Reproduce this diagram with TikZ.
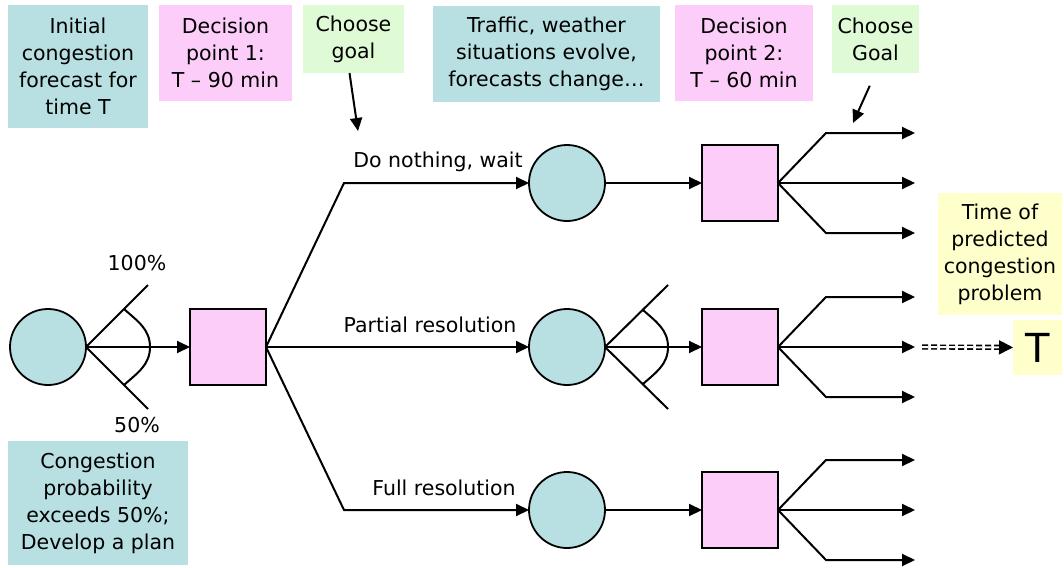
\documentclass[tikz,border=0pt]{standalone}
\usepackage{fontspec}
\setmainfont{DejaVu Sans}
\usetikzlibrary{positioning,arrows.meta,calc}
\definecolor{colorchance}   {RGB}{184,223,226}
\definecolor{colordecision} {RGB}{252,205,248}
\definecolor{colorgoal}     {RGB}{222,251,213}
\definecolor{colortime}     {RGB}{255,255,204}

\begin{document}
\begin{tikzpicture}[
    x=1pt, y=-1pt,
    font={\fontsize{20.5}{27}\selectfont},
    base/.style={align=center,inner sep=0pt,outer sep=0pt},
    note/.style={base,rectangle,minimum width=#1},
    chance/.style={base,circle,draw,line width=1.8pt,fill=colorchance,minimum size=76pt},
    decision/.style={base,rectangle,draw,line width=1.8pt,fill=colordecision,minimum size=76pt},
    edge/.style={line width=2pt},
    arrow/.style={edge,-{Triangle[length=13pt,width=12pt]}},
    dasharrow/.style={line width=1.6pt,double,double distance=2pt,dash pattern=on 6pt off 3pt,-{Triangle[length=14pt,width=14pt]}},
]
    \useasboundingbox (0,0) rectangle (1064,567);

    % Notes along the top
    \node[note=140pt,minimum height=123pt,fill=colorchance]   (forecast) at (78,66.5)   {Initial\\congestion\\forecast for\\time T};
    \node[note=133pt,minimum height=96pt,fill=colordecision]  (point1)   at (225.5,53)  {Decision\\point 1:\\T -- 90 min};
    \node[note=101pt,minimum height=68pt,fill=colorgoal]      (goal1)    at (353.5,39)  {Choose\\goal};
    \node[note=227pt,minimum height=96pt,fill=colorchance]    (evolve)   at (546.5,54)  {Traffic, weather\\situations evolve,\\forecasts change\ldots};
    \node[note=138pt,minimum height=96pt,fill=colordecision]  (point2)   at (744,53)    {Decision\\point 2:\\T -- 60 min};
    \node[note=87pt,minimum height=68pt,fill=colorgoal]       (goal2)    at (875.5,39)  {Choose\\Goal};
    \node[note=124pt,minimum height=122pt,fill=colortime]     (timeof)   at (1000,254)  {Time of\\predicted\\congestion\\problem};
    \node[note=180pt,minimum height=124pt,fill=colorchance]   (plan)     at (98,503)    {Congestion\\probability\\exceeds 50\%;\\Develop a plan};

    % First chance node and first decision
    \node[chance] (start) at (48,347) {};
    \node[decision,right=104pt of start] (dec1) {};
    \coordinate (startup)   at ($(start.east)+(62,-62)$);
    \coordinate (startdown) at ($(start.east)+(62,62)$);
    \coordinate (startcup)  at ($(start.east)+(38,-38)$);
    \coordinate (startcdn)  at ($(start.east)+(38,38)$);
    \coordinate (startapex) at ($(start.east)+(64,0)$);
    \draw[edge](start.east) -- (startup);
    \draw[edge](start.east) -- (startdown);
    \draw[edge](startcup) to[out=-42,in=90] (startapex) to[out=-90,in=42] (startcdn);
    \draw[arrow](start) -- (dec1);
    \node[base] (pct100) at (137,263) {100\%};
    \node[base] (pct50)  at (137,425) {50\%};

    % Second chance nodes
    \node[chance] (wait)    at (567,183) {};
    \node[chance] (partial) at (567,347) {};
    \node[chance] (full)    at (567,510) {};
    \coordinate (bendup)   at (344,183);
    \coordinate (benddown) at (344,510);
    \draw[arrow](dec1.east) -- (bendup) -- (wait);
    \draw[arrow](dec1) -- (partial);
    \draw[arrow](dec1.east) -- (benddown) -- (full);
    \node[base] (waitlbl)    at (438,162) {Do nothing, wait};
    \node[base] (partiallbl) at (430,325) {Partial resolution};
    \node[base] (fulllbl)    at (444,488) {Full resolution};

    % Fan on the partial resolution node
    \coordinate (partialup)   at ($(partial.east)+(63,-62)$);
    \coordinate (partialdown) at ($(partial.east)+(63,62)$);
    \coordinate (partialcup)  at ($(partial.east)+(38,-37)$);
    \coordinate (partialcdn)  at ($(partial.east)+(38,37)$);
    \coordinate (partialapex) at ($(partial.east)+(63,0)$);
    \draw[edge](partial.east) -- (partialup);
    \draw[edge](partial.east) -- (partialdown);
    \draw[edge](partialcup) to[out=-42,in=90] (partialapex) to[out=-90,in=42] (partialcdn);

    % Second decisions
    \node[decision,right=97pt of wait]    (dec2top) {};
    \node[decision,right=97pt of partial] (dec2mid) {};
    \node[decision,right=97pt of full]    (dec2bot) {};
    \draw[arrow](wait) -- (dec2top);
    \draw[arrow](partial) -- (dec2mid);
    \draw[arrow](full) -- (dec2bot);

    % Goal branches
    \foreach \d in {dec2top,dec2mid,dec2bot} {
        \coordinate (\d-up)     at ($(\d.east)+(48,-50)$);
        \coordinate (\d-upend)  at ($(\d.east)+(137,-50)$);
        \coordinate (\d-end)    at ($(\d.east)+(137,0)$);
        \coordinate (\d-dn)     at ($(\d.east)+(48,50)$);
        \coordinate (\d-dnend)  at ($(\d.east)+(137,50)$);
        \draw[arrow](\d.east) -- (\d-up) -- (\d-upend);
        \draw[arrow](\d.east) -- (\d-end);
        \draw[arrow](\d.east) -- (\d-dn) -- (\d-dnend);
    }

    % Time T
    \node[note=49pt,minimum height=55pt,fill=colortime,font={\fontsize{40}{40}\selectfont}] (timet) at (1037.5,347.5) {T};
    \draw[dasharrow,shorten <=7pt](dec2mid-end) -- (timet);

    % Choose goal pointers
    \coordinate (goal1tip) at (358,131);
    \coordinate (goal2tip) at (853,123);
    \draw[arrow]([xshift=-4pt]goal1.south) -- (goal1tip);
    \draw[arrow,shorten <=14pt](goal2.south) -- (goal2tip);

\end{tikzpicture}
\end{document}
